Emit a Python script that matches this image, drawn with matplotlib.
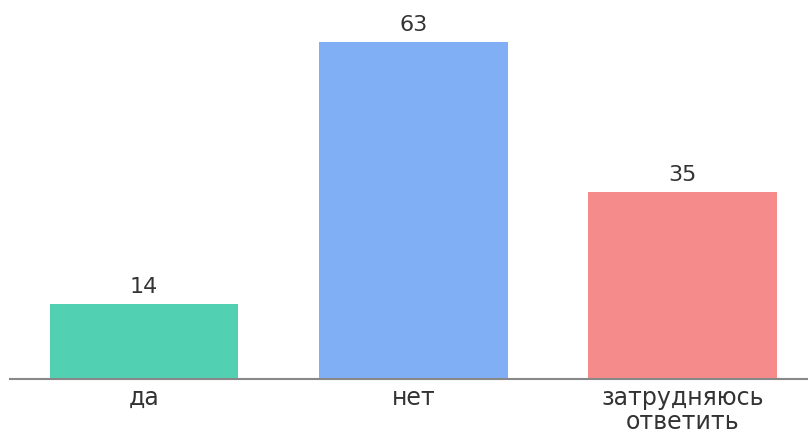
import matplotlib.pyplot as plt

# Survey answers and counts
answers = ['да', 'нет', 'затрудняюсь\nответить']
counts = [14, 63, 35]
colors = ['#52d1b2', '#80aff5', '#f68b8b']

plt.rcParams['font.family'] = ['DejaVu Sans']

fig = plt.figure(figsize=(8.08, 4.34), dpi=100)
ax = fig.add_axes([10 / 808, 55 / 434, 798 / 808, 379 / 434])

x = range(len(answers))
bars = ax.bar(x, counts, width=0.70, color=colors)

# value labels above the bars
for b, v in zip(bars, counts):
    ax.annotate(str(v), (b.get_x() + b.get_width() / 2, v),
                xytext=(0, 5), textcoords='offset points',
                ha='center', va='bottom', fontsize=16, color='#333333')

ax.set_xlim(-0.497, 2.465)
ax.set_ylim(0, 70.85)

ax.set_xticks(list(x))
ax.set_xticklabels(answers, fontsize=17, color='#333333', linespacing=1.0)
ax.tick_params(axis='x', length=0, pad=5)
ax.set_yticks([])

for s in ['top', 'right', 'left']:
    ax.spines[s].set_visible(False)
ax.spines['bottom'].set_color('#888888')
ax.spines['bottom'].set_linewidth(1.5)

fig.savefig('out.png', dpi=100)
